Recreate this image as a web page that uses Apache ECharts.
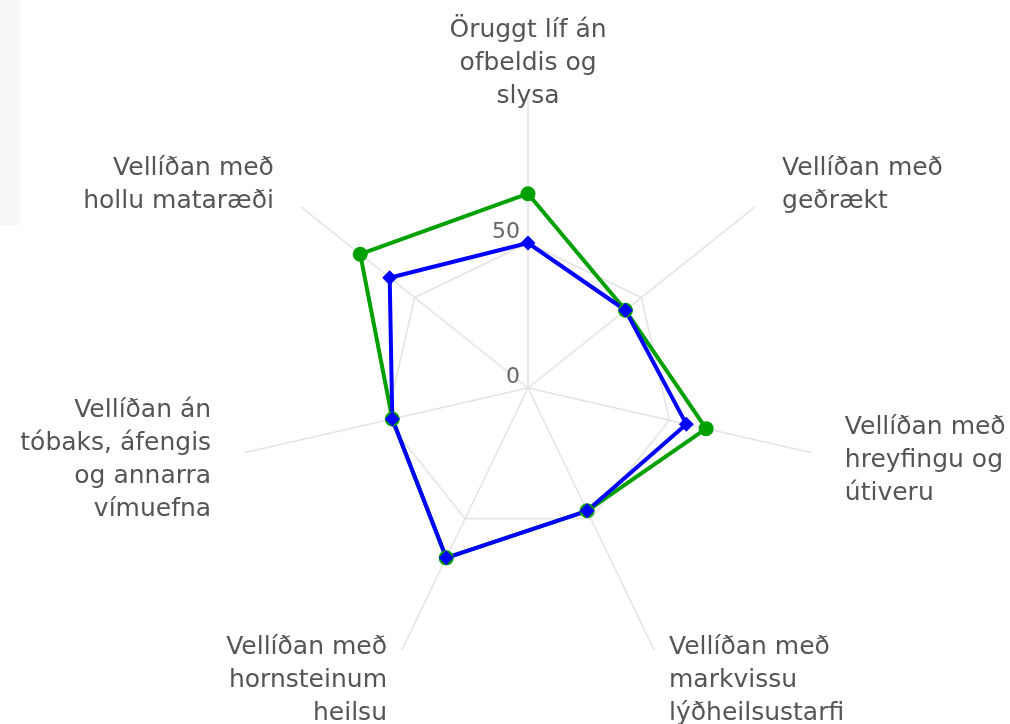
<!DOCTYPE html>
<html lang="is">
<head>
    <meta charset="UTF-8">
    <title>Heilsueflandi samfélag</title>
    <script src="https://cdn.jsdelivr.net/npm/echarts@6/dist/echarts.min.js"></script>
    <style>
        html, body { margin: 0; padding: 0; background: #fff; }
        #main { width: 1010px; height: 724px; }
    </style>
</head>
<body>
<div id="main"></div>
<script>
    // flokkar, réttsælis frá toppi
    var categories = [
        'Öruggt líf án\nofbeldis og\nslysa',
        'Vellíðan með\ngeðrækt',
        'Vellíðan með\nhreyfingu og\nútiveru',
        'Vellíðan með\nmarkvissu\nlýðheilsustarfi',
        'Vellíðan með\nhornsteinum\nheilsu',
        'Vellíðan án\ntóbaks, áfengis\nog annarra\nvímuefna',
        'Vellíðan með\nhollu mataræði'
    ];
    var greenValues = [67, 43, 63, 47, 65, 48, 74];
    var blueValues = [50, 43, 56, 47, 65, 48, 61];
    var radiusTicks = [0, 50];

    // echarts raðar ásunum rangsælis, svo snúum við röðinni (toppurinn fyrst)
    function toRadarOrder(arr) {
        return [arr[0]].concat(arr.slice(1).reverse());
    }

    var indicator = toRadarOrder(categories).map(function (name) {
        return { name: name, min: 0, max: 100 };
    });

    var myChart = echarts.init(document.getElementById('main'));
    var option = {
        animation: false,
        graphic: [{
            type: 'rect',
            shape: { x: 0, y: 0, width: 20, height: 225 },
            style: { fill: '#f7f7f7' },
            z: -1
        }],
        radar: {
            center: [528, 388],
            radius: 290,
            startAngle: 90,
            splitNumber: 2,
            shape: 'polygon',
            indicator: indicator,
            nameGap: 35,
            axisName: {
                color: '#555',
                fontFamily: 'DejaVu Sans',
                fontSize: 25,
                lineHeight: 33,
                verticalAlign: 'middle'
            },
            axisLine: { lineStyle: { color: '#e3e3e3', width: 1.5 } },
            splitLine: { lineStyle: { color: ['#e3e3e3', '#e3e3e3', 'rgba(0,0,0,0)'], width: 1.5 } },
            splitArea: { show: false }
        },
        polar: { center: [528, 388], radius: 290 },
        angleAxis: { show: false, min: 0, max: 360, startAngle: 90 },
        radiusAxis: {
            min: 0, max: 100, interval: 50,
            axisLine: { show: false },
            axisTick: { show: false },
            splitLine: { show: false },
            axisLabel: {
                color: '#666',
                fontFamily: 'DejaVu Sans',
                fontSize: 22,
                verticalAlign: 'bottom',
                formatter: function (v) { return radiusTicks.indexOf(v) >= 0 ? String(v) : ''; }
            }
        },
        series: [{
            type: 'radar',
            data: [
                {
                    name: 'green',
                    value: toRadarOrder(greenValues),
                    symbol: 'circle',
                    symbolSize: 15,
                    lineStyle: { color: '#00a000', width: 4 },
                    itemStyle: { color: '#00a000' }
                },
                {
                    name: 'blue',
                    value: toRadarOrder(blueValues),
                    symbol: 'diamond',
                    symbolSize: 15,
                    lineStyle: { color: '#0000ff', width: 4 },
                    itemStyle: { color: '#0000ff' }
                }
            ]
        }]
    };
    myChart.setOption(option);
</script>
</body>
</html>
